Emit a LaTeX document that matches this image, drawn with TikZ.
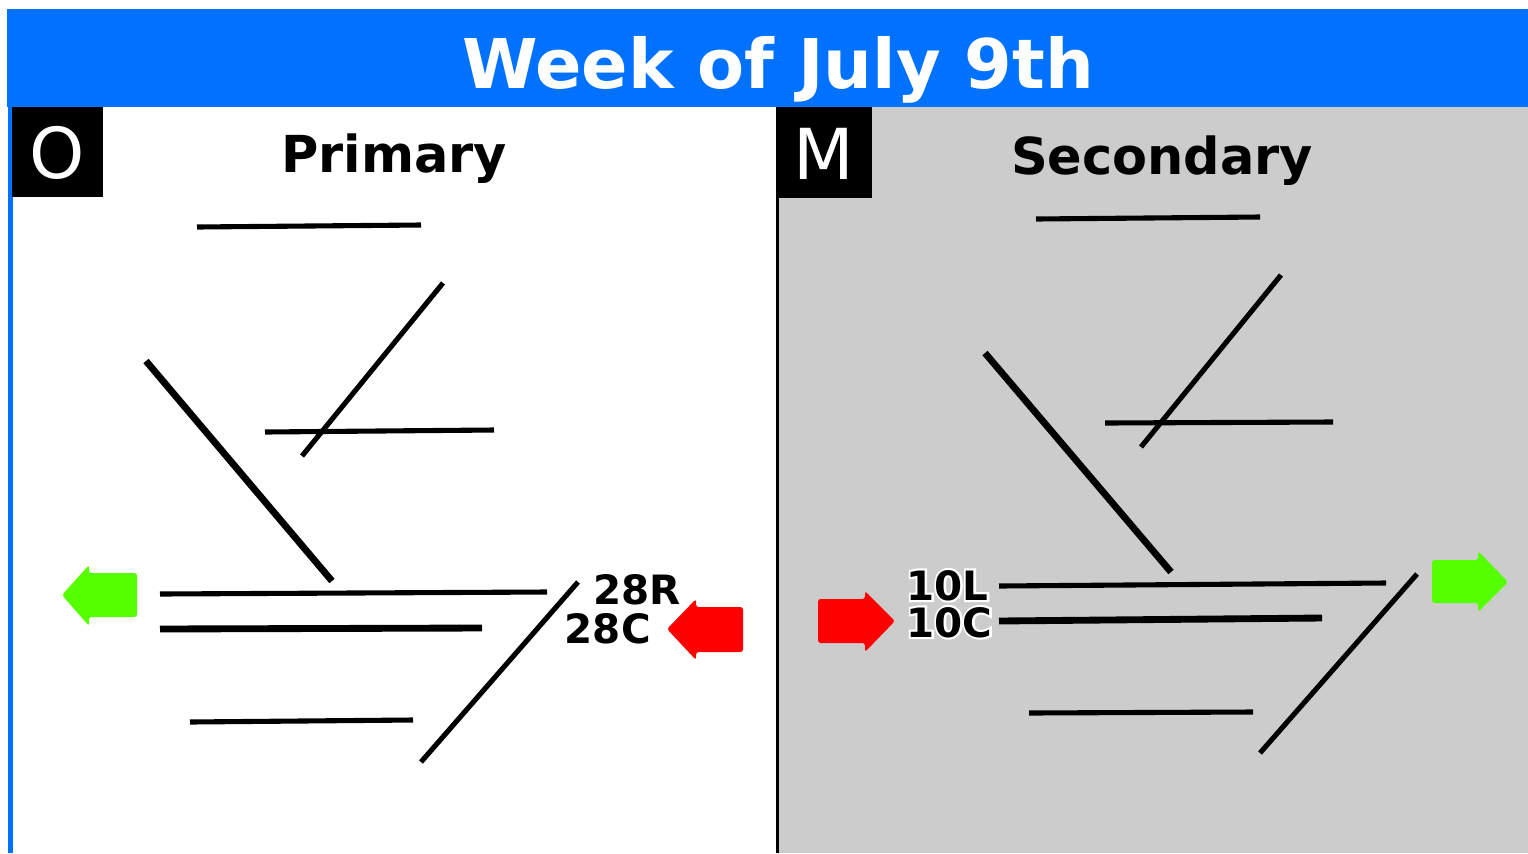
\documentclass[tikz,border=0pt]{standalone}
\usepackage{fontspec}
\setmainfont{DejaVu Sans}
\usetikzlibrary{positioning}
\definecolor{hdrblue}{RGB}{0,114,255}
\definecolor{panelgray}{RGB}{204,204,204}
\definecolor{gogreen}{RGB}{85,255,0}
\definecolor{stopred}{RGB}{255,0,0}
% white outline round a label
\newcommand{\haloed}[1]{\rlap{\special{pdf:literal direct 2 Tr 1 1 1 RG 2.4 w}\textcolor{white}{#1}\special{pdf:literal direct 0 Tr 0 0 0 RG 1 w}}#1}
\tikzstyle{rwy} = [draw, line width=2.9pt]
\tikzstyle{widerwy} = [draw, line width=3.9pt]
\tikzstyle{tag} = [inner sep=0pt, font=\bfseries\fontsize{23}{23}\selectfont]
\tikzstyle{panel} = [inner sep=0pt, font=\bfseries\fontsize{29}{29}\selectfont]
\tikzstyle{letter} = [inner sep=0pt, text=white, font=\fontsize{40}{40}\selectfont]
\tikzstyle{flow} = [rounded corners=1.5pt]

\begin{document}
\begin{tikzpicture}[x=0.02cm, y=-0.02cm]
		\useasboundingbox (0,0) rectangle (1528,853);
		% Background and frame
		\fill [hdrblue] (7,9) rectangle (1528,107);
		\fill [hdrblue] (7.5,107) rectangle (12.5,853);
		\fill [panelgray] (779,107) rectangle (1528,853);
		\fill [black] (776,107) rectangle (779,853);
		\fill [black] (12,107) rectangle (103,197);
		\fill [black] (776,107) rectangle (872,198);
		% Draw nodes
		\node [inner sep=0pt, anchor=base, text=white, font=\bfseries\fontsize{39}{39}\selectfont] (title) at (778,88) {Week of July 9th};
		\node [letter, anchor=base] (oletter) at (57.5,178) {O};
		\node [letter, anchor=base] (mletter) at (824,179) {M};
		\node [panel, anchor=base] (primary) at (394,172) {Primary};
		\node [panel, anchor=base] (secondary) at (1162,174) {Secondary};
		\node [tag, anchor=base east] (r28r) at (681,604) {28R};
		\node [tag, anchor=base east] (r28c) at (651,643) {28C};
		\node [tag, anchor=base west] (r10l) at (906,600) {\haloed{10L}};
		\node [tag, anchor=base west] (r10c) at (906,637) {\haloed{10C}};
		% Primary runways
		\path [rwy] (197,227) -- (421,225);
		\path [rwy] (302,456) -- (443,283);
		\path [rwy] (265,432) -- (494,430);
		\path [widerwy] (146,361) -- (332,581);
		\path [rwy] (160,594) -- (547,592);
		\path [widerwy] (160,629) -- (482,628);
		\path [rwy] (190,722) -- (413,720);
		\path [rwy] (421,762) -- (578,582);
		% Secondary runways
		\path [rwy] (1036,219) -- (1260,217);
		\path [rwy] (1141,447) -- (1281,275);
		\path [rwy] (1105,423) -- (1333,422);
		\path [widerwy] (985,353) -- (1171,572);
		\path [rwy] (999,586) -- (1386,583);
		\path [widerwy] (999,621) -- (1322,618);
		\path [rwy] (1029,713) -- (1253,712);
		\path [rwy] (1260,753) -- (1417,574);
		% Flow arrows
		\fill [gogreen, flow] (137,573) -- (89,573) -- (89,565) -- (62,595) -- (89,626) -- (89,617) -- (137,617) -- cycle;
		\fill [stopred, flow] (743,607) -- (696,607) -- (696,599) -- (667,629) -- (696,660) -- (696,652) -- (743,652) -- cycle;
		\fill [stopred, flow] (818,599) -- (865,599) -- (865,591) -- (895,621) -- (865,652) -- (865,643) -- (818,643) -- cycle;
		\fill [gogreen, flow] (1432,560) -- (1478,560) -- (1478,551) -- (1508,582) -- (1478,612) -- (1478,603) -- (1432,603) -- cycle;
	\end{tikzpicture}
\end{document}
